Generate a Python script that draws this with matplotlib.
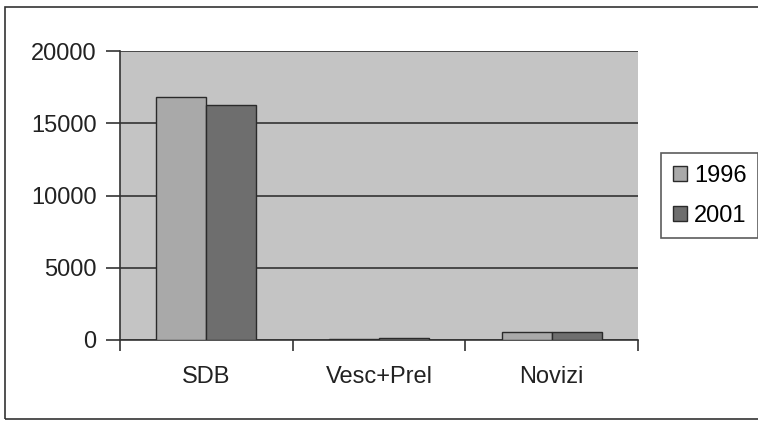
import matplotlib.pyplot as plt
import numpy as np
from matplotlib.patches import Rectangle

plt.rcParams['font.family'] = ['Liberation Sans', 'DejaVu Sans']

categories = ['SDB', 'Vesc+Prel', 'Novizi']
years = ['1996', '2001']
vals_1996 = [16800, 90, 560]
vals_2001 = [16250, 110, 570]
yticks = [0, 5000, 10000, 15000, 20000]

fig = plt.figure(figsize=(7.58, 4.22), dpi=100)
fig.patch.set_facecolor('white')
# outer chart frame
fig.patches.append(Rectangle((5/758, 3/422), 1.0, 412/422, transform=fig.transFigure,
                             fill=False, edgecolor='#333333', linewidth=1.2))

ax = fig.add_axes([120/758, 82/422, 518/758, 289/422])
ax.set_facecolor('#c4c4c4')

x = np.arange(len(categories))
w = 0.29
ax.bar(x - w/2, vals_1996, w, color='#a9a9a9', edgecolor='#2a2a2a', linewidth=1.0, label=years[0], zorder=3)
ax.bar(x + w/2, vals_2001, w, color='#6e6e6e', edgecolor='#2a2a2a', linewidth=1.0, label=years[1], zorder=3)

ax.set_xlim(-0.5, len(categories) - 0.5)
ax.set_ylim(0, 20000)
ax.set_yticks(yticks)
ax.yaxis.grid(True, color='#333333', linewidth=1.2, zorder=1)
ax.set_axisbelow(True)

ax.set_xticks(x)
ax.set_xticklabels(categories, fontsize=17, color='#222222')
ax.set_xticks(np.arange(len(categories) + 1) - 0.5, minor=True)
ax.tick_params(axis='x', which='major', length=0, pad=19)
ax.tick_params(axis='x', which='minor', length=8, width=1.2, color='#333333', direction='out')
ax.tick_params(axis='y', length=10, width=1.2, color='#333333', direction='out', pad=7,
               labelsize=17, labelcolor='#222222')

for s in ['top', 'right']:
    ax.spines[s].set_visible(False)
for s in ['left', 'bottom']:
    ax.spines[s].set_color('#333333')
    ax.spines[s].set_linewidth(1.2)

leg = fig.legend(loc='upper left', bbox_to_anchor=(661/758, 1 - 153/422), fontsize=17,
                 frameon=True, fancybox=False, edgecolor='#333333', handlelength=0.6,
                 handleheight=0.6, handletextpad=0.3, borderpad=0.5, labelspacing=0.75,
                 borderaxespad=0)
leg.get_frame().set_linewidth(1.2)

fig.savefig('out.png', dpi=100)
